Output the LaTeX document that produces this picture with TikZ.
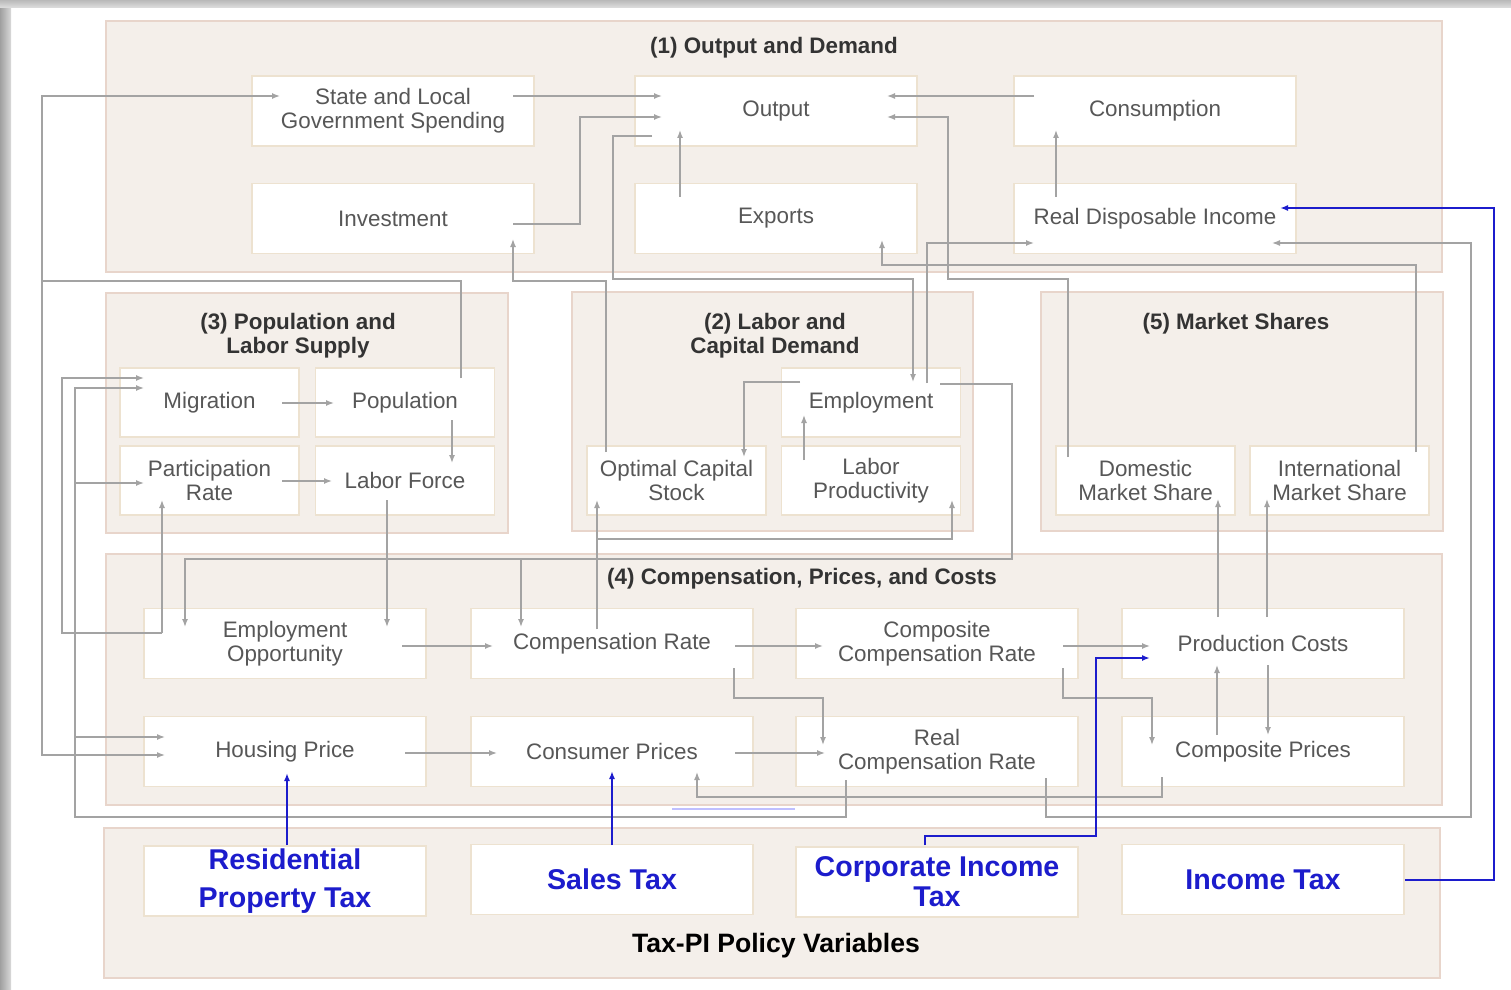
\documentclass[tikz,border=0pt]{standalone}
\usepackage{fontspec}
\setmainfont{Liberation Sans}
\usetikzlibrary{arrows.meta,calc}

\definecolor{panelfill}{HTML}{F4EFEA}
\definecolor{paneledge}{HTML}{E8D5CB}
\definecolor{boxedge}{HTML}{EDE2D0}
\definecolor{linkgray}{HTML}{A3A3A3}
\definecolor{labelgray}{HTML}{575757}
\definecolor{taxblue}{HTML}{1C1CCC}

\begin{document}
\begin{tikzpicture}[x=0.5pt,y=-0.5pt,
    panel/.style={fill=panelfill,draw=paneledge,line width=1pt},
    varbox/.style={draw=boxedge,fill=white,line width=0.8pt,minimum width=141pt,minimum height=35pt,
      inner sep=0pt,align=center,text=labelgray,font=\fontsize{11.2}{12}\selectfont},
    smallbox/.style={varbox,minimum width=89.5pt,minimum height=34.5pt},
    taxbox/.style={varbox,text=taxblue,font=\fontsize{14.3}{15}\selectfont\bfseries},
    paneltitle/.style={align=center,text=black!80,font=\fontsize{11.2}{12}\selectfont\bfseries},
    conn/.style={draw=linkgray,line width=0.7pt,-{Latex[length=4pt,width=3pt]}},
    taxconn/.style={draw=taxblue,line width=1pt,-{Latex[length=4pt,width=3pt]}}]
      \useasboundingbox (0,0) rectangle (1511,990);

      % Window frame
      \shade[left color=gray!75,right color=gray!30] (0,0) rectangle (11,990);
      \shade[top color=gray!55,bottom color=gray!25] (0,0) rectangle (1511,8);

      % Panels
      \draw[panel] (106,21) rectangle (1442,272);
      \draw[panel] (106,293) rectangle (508,533);
      \draw[panel] (572,292) rectangle (973,531);
      \draw[panel] (1041,292) rectangle (1443,531);
      \draw[panel] (106,554) rectangle (1442,805);
      \draw[panel] (104,828) rectangle (1440,978);

      \node[paneltitle] (t1) at (774,48) {(1) Output and Demand};
      \node[paneltitle] (t3) at (298,336) {(3) Population and\\Labor Supply};
      \node[paneltitle] (t2) at (775,336) {(2) Labor and\\Capital Demand};
      \node[paneltitle] (t5) at (1236,324) {(5) Market Shares};
      \node[paneltitle] (t4) at (802,579) {(4) Compensation, Prices, and Costs};
      \node[paneltitle,font=\fontsize{13.3}{14}\selectfont\bfseries,text=black] (t6) at (776,946) {Tax-PI Policy Variables};

      % (1) Output and Demand
      \node[varbox] (sl) at (393,111) {State and Local\\Government Spending};
      \node[varbox] (out) at (776,111) {Output};
      \node[varbox] (cons) at (1155,111) {Consumption};
      \node[varbox] (inv) at (393,218.5) {Investment};
      \node[varbox] (exp) at (776,218.5) {Exports};
      \node[varbox] (rdi) at (1155,218.5) {Real Disposable Income};

      % (3) Population and Labor Supply
      \node[smallbox] (mig) at (209.5,402.5) {Migration};
      \node[smallbox] (pop) at (405,402.5) {Population};
      \node[smallbox] (part) at (209.5,480.5) {Participation\\Rate};
      \node[smallbox] (lf) at (405,480.5) {Labor Force};

      % (2) Labor and Capital Demand
      \node[smallbox] (emp) at (871,402.5) {Employment};
      \node[smallbox] (ocs) at (676.5,480.5) {Optimal Capital\\Stock};
      \node[smallbox] (lp) at (871,480.5) {Labor\\Productivity};

      % (5) Market Shares
      \node[smallbox] (dms) at (1145.5,480.5) {Domestic\\Market Share};
      \node[smallbox] (ims) at (1339.5,480.5) {International\\Market Share};

      % (4) Compensation, Prices, and Costs
      \node[varbox] (eo) at (285,643.5) {Employment\\Opportunity};
      \node[varbox] (cr) at (612,643.5) {Compensation Rate};
      \node[varbox] (ccr) at (937,643.5) {Composite\\Compensation Rate};
      \node[varbox] (pc) at (1263,643.5) {Production Costs};
      \node[varbox] (hp) at (285,751.5) {Housing Price};
      \node[varbox] (cp) at (612,751.5) {Consumer Prices};
      \node[varbox] (rcr) at (937,751.5) {Real\\Compensation Rate};
      \node[varbox] (cpr) at (1263,751.5) {Composite Prices};

      % Tax-PI policy variables
      \node[taxbox] (rpt) at (285,881) {Residential\\[4pt]Property Tax};
      \node[taxbox] (st) at (612,879.5) {Sales Tax};
      \node[taxbox] (cit) at (937,882) {Corporate Income\\Tax};
      \node[taxbox] (it) at (1263,879.5) {Income Tax};

      % Links inside (1)
      \draw[conn] ($(sl)+(120,-15)$) -- ($(out)+(-114,-15)$);
      \draw[conn] ($(inv)+(120,5.5)$) -| (580,117) -- ($(out)+(-114,6)$);
      \draw[conn] ($(exp)+(-96,-21.5)$) -- ($(out)+(-96,19)$);
      \draw[conn] ($(cons)+(-121,-15)$) -- ($(out)+(111,-15)$);
      \draw[conn] ($(rdi)+(-99,-21.5)$) -- ($(cons)+(-99,19)$);

      % Links leaving and entering (1)
      \draw[conn] ($(out)+(-124,25)$) -| (613,279) -| ($(emp)+(42,-20.5)$);
      \draw[conn] ($(dms)+(-77.5,-23.5)$) |- (948,279) |- ($(out)+(111,6)$);
      \draw[conn] ($(ims)+(76.5,-28.5)$) |- (882,265) -- ($(exp)+(106,21.5)$);
      \draw[conn] ($(emp)+(56,-19.5)$) |- ($(rdi)+(-121,24.5)$);
      \draw[conn] ($(ocs)+(-70.5,-28.5)$) |- (513,281) -- ($(inv)+(120,20.5)$);
      \draw[conn] ($(pop)+(56,-24.5)$) |- (42,281) |- ($(sl)+(-113,-15)$);
      \draw[conn] ($(pop)+(56,-24.5)$) |- (42,281) |- ($(hp)+(-120,3.5)$);
      \draw[conn] ($(rcr)+(109,26.5)$) |- (1471,817) |- ($(rdi)+(117,24.5)$);

      % Links inside (2) and (3)
      \draw[conn] ($(mig)+(72.5,0.5)$) -- ($(pop)+(-71,0.5)$);
      \draw[conn] ($(part)+(72.5,0.5)$) -- ($(lf)+(-73,0.5)$);
      \draw[conn] ($(pop)+(47,17.5)$) -- ($(lf)+(47,-17.5)$);
      \draw[conn] ($(emp)+(-71,-20.5)$) -| ($(ocs)+(67.5,-23.5)$);
      \draw[conn] ($(lp)+(-67,-20.5)$) -- ($(emp)+(-67,12.5)$);

      % Links from (4) up to (2), (3) and (5)
      \draw[conn] ($(eo)+(-123,-10.5)$) -- ($(part)+(-47.5,19.5)$);
      \draw[conn] ($(eo)+(-123,-10.5)$) -| (62,378) -- ($(mig)+(-65.5,-24.5)$);
      \draw[conn] ($(rcr)+(-91,28.5)$) |- (75,817) |- ($(mig)+(-65.5,-14.5)$);
      \draw[conn] ($(rcr)+(-91,28.5)$) |- (75,817) |- ($(part)+(-65.5,2.5)$);
      \draw[conn] ($(rcr)+(-91,28.5)$) |- (75,817) |- ($(hp)+(-120,-14.5)$);
      \draw[conn] ($(cr)+(-15,-14.5)$) -- ($(ocs)+(-79.5,19.5)$);
      \draw[conn] ($(cr)+(-15,-14.5)$) |- (952,539) -- ($(lp)+(81,19.5)$);
      \draw[conn] ($(pc)+(-45,-26.5)$) -- ($(dms)+(72.5,18.5)$);
      \draw[conn] ($(pc)+(4,-26.5)$) -- ($(ims)+(-72.5,18.5)$);

      % Links from (2) and (3) down to (4)
      \draw[conn] ($(emp)+(69,-18.5)$) -| (1012,559) -| ($(eo)+(-100,-16.5)$);
      \draw[conn] ($(emp)+(69,-18.5)$) -| (1012,559) -| ($(cr)+(-91,-16.5)$);
      \draw[conn] ($(lf)+(-18,19.5)$) -- ($(eo)+(102,-16.5)$);

      % Links inside (4)
      \draw[conn] ($(eo)+(117,2.5)$) -- ($(cr)+(-119,2.5)$);
      \draw[conn] ($(cr)+(123,2.5)$) -- ($(ccr)+(-114,2.5)$);
      \draw[conn] ($(cr)+(122,24.5)$) |- (823,698) -- ($(rcr)+(-114,-6.5)$);
      \draw[conn] ($(hp)+(120,1.5)$) -- ($(cp)+(-115,1.5)$);
      \draw[conn] ($(cp)+(123,1.5)$) -- ($(rcr)+(-112,1.5)$);
      \draw[conn] ($(cpr)+(-101,25.5)$) |- (697,797) -- ($(cp)+(85,20.5)$);
      \draw[conn] ($(ccr)+(126,24.5)$) |- (1152,698) -- ($(cpr)+(-111,-6.5)$);
      \draw[conn] ($(ccr)+(126,2.5)$) -- ($(pc)+(-113,2.5)$);
      \draw[conn] ($(cpr)+(-46,-16.5)$) -- ($(pc)+(-46,21.5)$);
      \draw[conn] ($(pc)+(5,21.5)$) -- ($(cpr)+(5,-16.5)$);
      \draw[blue!25,line width=1pt] (672,809) -- (795,809);

      % Tax links
      \draw[taxconn] ($(rpt)+(2,-36)$) -- ($(hp)+(2,21.5)$);
      \draw[taxconn] ($(st)+(0,-34.5)$) -- ($(cp)+(0,19.5)$);
      \draw[taxconn] ($(cit)+(-12,-37)$) |- (1096,836) |- ($(pc)+(-113,14.5)$);
      \draw[taxconn] (it.east) -| (1494,208) -- ($(rdi)+(125,-10.5)$);
    \end{tikzpicture}
\end{document}
